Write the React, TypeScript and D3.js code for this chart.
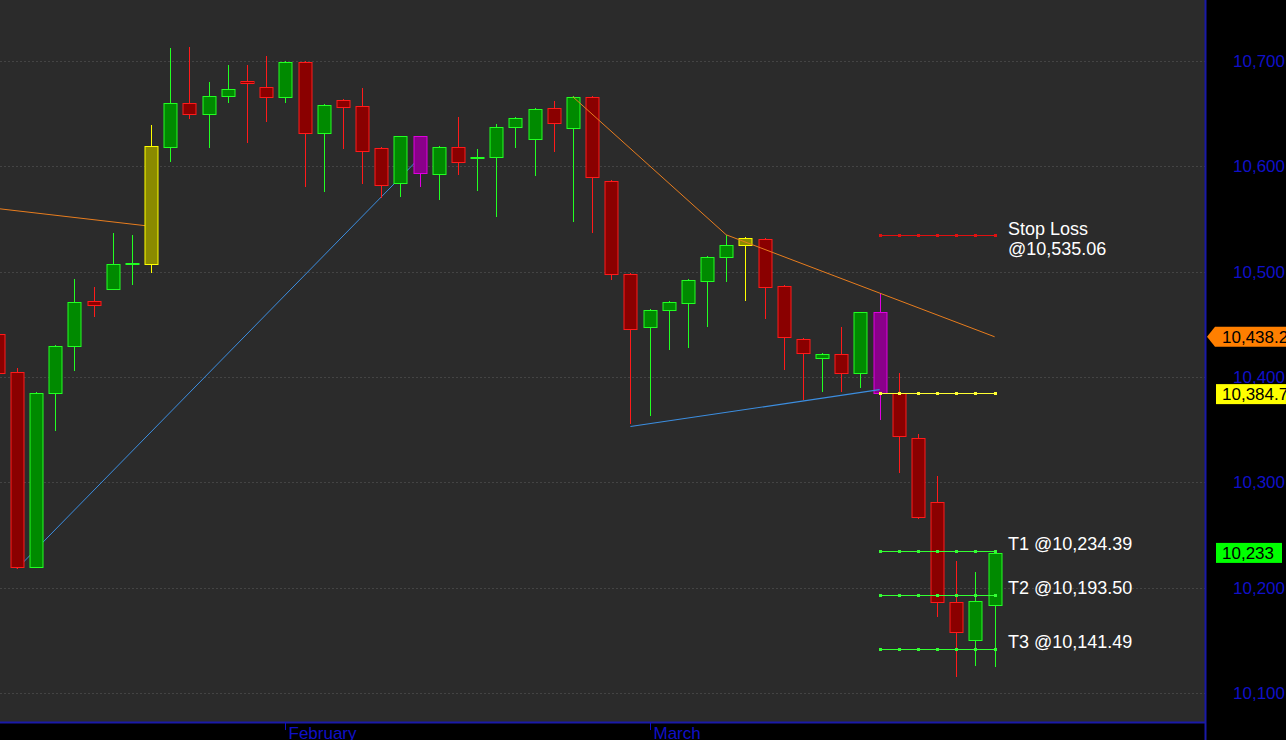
import React from "react";
import * as d3 from "d3";

// ---- data ----
const dates = [
  "Jan 11", "Jan 14", "Jan 15", "Jan 16", "Jan 17", "Jan 18", "Jan 21", "Jan 22", "Jan 23", "Jan 24",
  "Jan 25", "Jan 28", "Jan 29", "Jan 30", "Jan 31",
  "Feb 1", "Feb 5", "Feb 6", "Feb 7", "Feb 8", "Feb 11", "Feb 12", "Feb 13", "Feb 14", "Feb 15",
  "Feb 18", "Feb 19", "Feb 20", "Feb 21", "Feb 22", "Feb 25", "Feb 26", "Feb 27", "Feb 28",
  "Mar 1", "Mar 4", "Mar 5", "Mar 6", "Mar 7", "Mar 8", "Mar 11", "Mar 12", "Mar 13", "Mar 14",
  "Mar 15", "Mar 18", "Mar 19", "Mar 20", "Mar 21", "Mar 22", "Mar 25", "Mar 26", "Mar 27",
];
const opens = [
  10441, 10405, 10220, 10385, 10429, 10472, 10484, 10507, 10507, 10618,
  10660, 10650, 10667, 10681, 10675, 10666, 10699, 10632, 10663, 10657,
  10617, 10584, 10629, 10593, 10618, 10608, 10609, 10637, 10626, 10655,
  10636, 10666, 10586, 10498, 10447, 10464, 10470, 10491, 10514, 10525,
  10531, 10486, 10436, 10418, 10422, 10404, 10462, 10385, 10342, 10281,
  10186, 10150, 10184,
];
const highs = [
  10445, 10409, 10386, 10430, 10493, 10485, 10537, 10535, 10639, 10712,
  10713, 10680, 10696, 10696, 10705, 10700, 10700, 10659, 10664, 10674,
  10618, 10629, 10629, 10619, 10647, 10616, 10640, 10647, 10655, 10662,
  10667, 10667, 10587, 10499, 10465, 10472, 10493, 10515, 10535, 10533,
  10532, 10487, 10437, 10423, 10447, 10462, 10480, 10404, 10346, 10306,
  10225, 10215, 10234,
];
const lows = [
  10398, 10218, 10219, 10349, 10406, 10457, 10483, 10487, 10499, 10604,
  10645, 10617, 10660, 10622, 10642, 10660, 10580, 10576, 10616, 10583,
  10570, 10571, 10580, 10568, 10592, 10577, 10552, 10617, 10591, 10614,
  10547, 10537, 10492, 10355, 10363, 10426, 10428, 10447, 10490, 10472,
  10455, 10407, 10378, 10386, 10386, 10390, 10359, 10309, 10265, 10172,
  10115, 10126, 10125,
];
const closes = [
  10404, 10220, 10385, 10429, 10471, 10468, 10507, 10508, 10619, 10660,
  10650, 10667, 10673, 10679, 10666, 10699, 10632, 10658, 10656, 10615,
  10582, 10629, 10594, 10618, 10604, 10609, 10637, 10646, 10654, 10641,
  10666, 10590, 10498, 10446, 10464, 10471, 10492, 10514, 10525, 10532,
  10485, 10438, 10423, 10422, 10404, 10462, 10385, 10344, 10267, 10186,
  10158, 10187, 10233,
];
const yellowBars = [8, 39];
const magentaBars = [22, 46];

const yTicks = [10100, 10200, 10300, 10400, 10500, 10600, 10700];

// trend lines: [bar index, price]
const orangeLine1: [number, number][] = [[-1, 10562], [8, 10543]];
const blueLine1: [number, number][] = [[1, 10218], [22, 10608]];
const orangeLine2: [number, number][] = [[30, 10666], [38, 10535], [52, 10438.2]];
const blueLine2: [number, number][] = [[33, 10353], [46, 10388]];

const levelStart = 46;
const levelEnd = 52;
const stopLoss = 10535.06;
const entryLevel = 10384.7;
const targets = [
  { name: "T1", value: 10234.39 },
  { name: "T2", value: 10193.5 },
  { name: "T3", value: 10141.49 },
];
const lastPrice = 10233;
const orangeTag = 10438.2;

export default function App() {
  const W = 1286;
  const H = 740;
  const plotRight = 1205;
  const plotBottom = 722;

  const x = d3.scaleLinear().domain([0, 52]).range([-2.2, 994.6]);
  const y = d3.scaleLinear().domain([10100, 10700]).range([693, 61]);
  const cx = (i: number) => Math.round(x(i)) + 0.5;
  const bodyW = 13;

  const fmt = d3.format(",");
  const lineGen = d3
    .line<[number, number]>()
    .x((d) => x(d[0]))
    .y((d) => y(d[1]));

  const colorsFor = (i: number) => {
    if (yellowBars.includes(i)) return { fill: "#8a8a00", stroke: "#ffff00" };
    if (magentaBars.includes(i)) return { fill: "#8a008a", stroke: "#e000e0" };
    if (closes[i] >= opens[i]) return { fill: "#008a00", stroke: "#22ff22" };
    return { fill: "#8a0000", stroke: "#ff1a1a" };
  };

  const monthStarts: { label: string; i: number }[] = [];
  const monthNames: Record<string, string> = { Jan: "January", Feb: "February", Mar: "March" };
  dates.forEach((d, i) => {
    const m = d.split(" ")[0];
    if (i > 0 && dates[i - 1].split(" ")[0] !== m) monthStarts.push({ label: monthNames[m], i });
  });

  const levelXs = d3.range(levelStart, levelEnd + 1);

  const levelLine = (v: number, color: string, key: string) => {
    const yy = Math.round(y(v)) + 0.5;
    return (
      <g key={key}>
        <line x1={cx(levelStart)} x2={cx(levelEnd)} y1={yy} y2={yy} stroke={color} strokeWidth={1} />
        {levelXs.map((i) => (
          <rect key={i} x={cx(i) - 1.5} y={yy - 1.5} width={3} height={3} fill={color} />
        ))}
      </g>
    );
  };

  return (
    <svg
      width={W}
      height={H}
      style={{ position: "absolute", left: 0, top: 0, display: "block" }}
      fontFamily="Arial, 'Liberation Sans', sans-serif"
    >
      <rect x={0} y={0} width={W} height={H} fill="#000000" />
      <rect x={0} y={0} width={plotRight} height={plotBottom} fill="#2b2b2b" />

      {/* grid */}
      {yTicks.map((t) => (
        <line
          key={t}
          x1={0}
          x2={plotRight}
          y1={Math.round(y(t)) + 0.5}
          y2={Math.round(y(t)) + 0.5}
          stroke="#444444"
          strokeDasharray="2,2"
        />
      ))}

      {/* trend lines behind candles */}
      <path d={lineGen(orangeLine1) || ""} fill="none" stroke="#e87d1e" strokeWidth={1} />
      <path d={lineGen(blueLine1) || ""} fill="none" stroke="#3c8ee0" strokeWidth={1} />

      {/* candles */}
      {opens.map((o, i) => {
        const c = closes[i];
        const { fill, stroke } = colorsFor(i);
        const top = Math.round(y(Math.max(o, c)));
        const bot = Math.round(y(Math.min(o, c)));
        const xc = cx(i);
        const wTop = Math.round(y(highs[i]));
        const wBot = Math.round(y(lows[i]));
        return (
          <g key={i}>
            <rect x={xc - 0.5} y={wTop} width={1} height={wBot - wTop} fill={stroke} />
            <rect
              x={xc - bodyW / 2}
              y={top + 0.5}
              width={bodyW}
              height={Math.max(bot - top, 0.5)}
              fill={fill}
              stroke={stroke}
              strokeWidth={1}
            />
          </g>
        );
      })}

      <path d={lineGen(orangeLine2) || ""} fill="none" stroke="#e87d1e" strokeWidth={1} />
      <path d={lineGen(blueLine2) || ""} fill="none" stroke="#3c8ee0" strokeWidth={1.2} />

      {/* levels */}
      {levelLine(stopLoss, "#e01010", "sl")}
      {levelLine(entryLevel, "#ffff33", "entry")}
      {targets.map((t) => levelLine(t.value, "#33ff33", t.name))}

      {/* level texts */}
      <g fill="#ffffff" fontSize={18}>
        <text x={1008} y={Math.round(y(stopLoss))}>Stop Loss</text>
        <text x={1008} y={Math.round(y(stopLoss)) + 20}>@{d3.format(",.2f")(stopLoss)}</text>
        {targets.map((t) => (
          <text key={t.name} x={1008} y={Math.round(y(t.value)) - 1}>
            {t.name} @{d3.format(",.2f")(t.value)}
          </text>
        ))}
      </g>

      {/* axis frame */}
      <line x1={plotRight + 0.5} x2={plotRight + 0.5} y1={0} y2={H} stroke="#1a1aa8" strokeWidth={2} />
      <line x1={0} x2={plotRight} y1={plotBottom + 0.5} y2={plotBottom + 0.5} stroke="#1a1aa8" strokeWidth={2} />

      {/* right axis labels */}
      <g fill="#1010c8" fontSize={17}>
        {yTicks.map((t) => (
          <text key={t} x={1233} y={y(t) + 6}>
            {fmt(t)}
          </text>
        ))}
      </g>

      {/* price tags */}
      <path
        d={`M1207,${y(orangeTag)} L1215,${y(orangeTag) - 10} L1290,${y(orangeTag) - 10} L1290,${y(orangeTag) + 10} L1215,${y(orangeTag) + 10} Z`}
        fill="#ff7f00"
      />
      <text x={1222} y={y(orangeTag) + 6} fontSize={17} fill="#000">
        {d3.format(",.1f")(orangeTag)}
      </text>
      <rect x={1216} y={y(entryLevel) - 9} width={74} height={20} fill="#ffff00" />
      <text x={1222} y={y(entryLevel) + 7} fontSize={17} fill="#000">
        {d3.format(",.1f")(entryLevel)}
      </text>
      <rect x={1216} y={y(lastPrice) - 10} width={66} height={20} fill="#00ff00" />
      <text x={1222} y={y(lastPrice) + 6} fontSize={17} fill="#000">
        {fmt(lastPrice)}
      </text>

      {/* month labels */}
      <g fill="#1010c8" fontSize={17}>
        {monthStarts.map((m) => (
          <g key={m.label}>
            <line x1={cx(m.i)} x2={cx(m.i)} y1={plotBottom} y2={plotBottom + 8} stroke="#1010c8" />
            <text x={cx(m.i) + 3} y={739}>
              {m.label}
            </text>
          </g>
        ))}
      </g>
    </svg>
  );
}
